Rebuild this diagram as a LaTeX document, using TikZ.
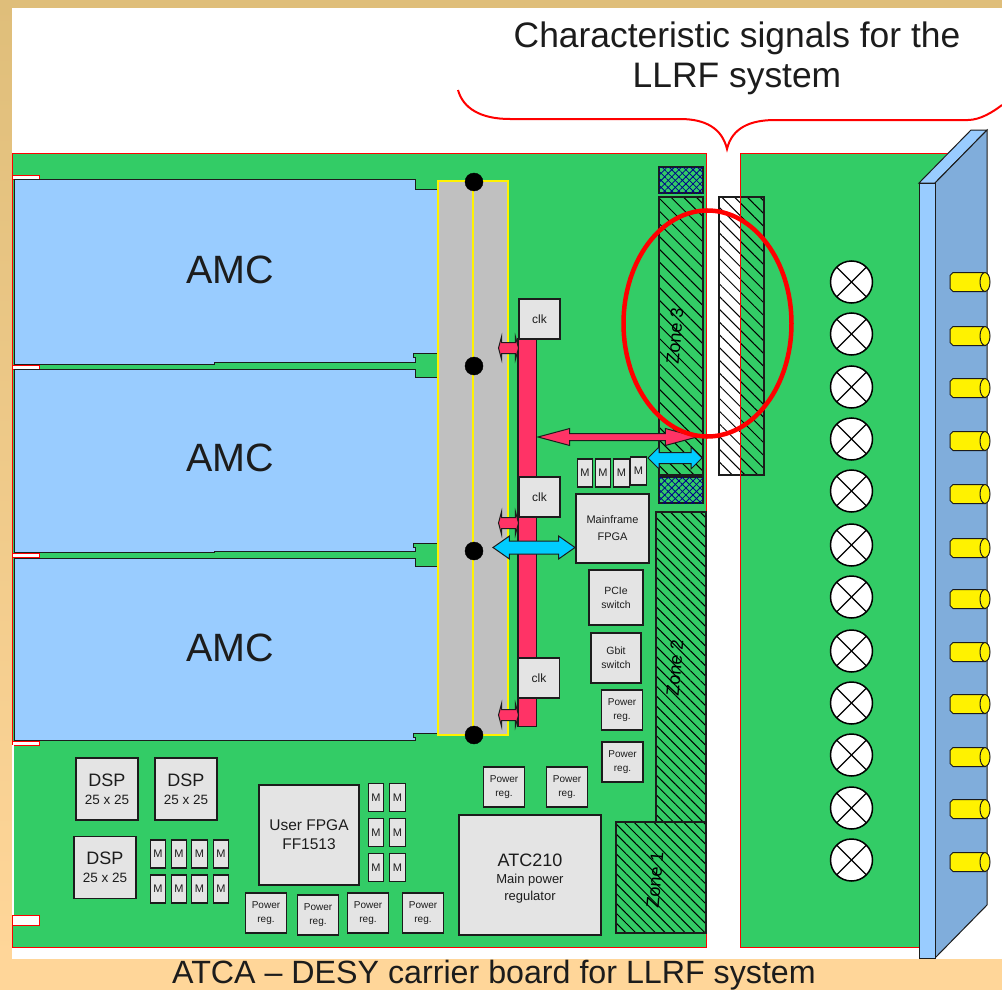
\documentclass[tikz,border=0pt]{standalone}
\usepackage{fontspec}
\setmainfont{Liberation Sans}
\usetikzlibrary{shapes.arrows,patterns.meta}
\definecolor{boardgreen}{HTML}{33CC66}
\definecolor{amcblue}{HTML}{99CCFF}
\definecolor{sideblue}{HTML}{80ADDB}
\definecolor{chipgray}{HTML}{E4E4E4}
\definecolor{railgray}{HTML}{C0C0C0}
\definecolor{busred}{HTML}{FF3366}
\definecolor{linkcyan}{HTML}{00CCFF}
\definecolor{slidetan}{HTML}{FFD699}
\definecolor{slidetop}{HTML}{DFBE7A}
\definecolor{inkblack}{HTML}{1C1C1C}
\tikzset{
  chipbox/.style={draw=inkblack,fill=chipgray,line width=1.4pt,inner sep=0pt,outer sep=0pt,
    align=center,text=inkblack},
  tiny chip/.style={chipbox,minimum width=15.5,minimum height=28,font=\fontsize{11}{12}\selectfont},
  power chip/.style={chipbox,minimum width=41,minimum height=40,font=\fontsize{10}{14}\selectfont},
  clk chip/.style={chipbox,minimum width=41,minimum height=40,font=\fontsize{12}{14}\selectfont},
  dsp chip/.style={chipbox,minimum width=62,minimum height=62,font=\fontsize{13.5}{18}\selectfont},
  zone lines/.style={draw=inkblack,line width=1.2pt,pattern={Lines[angle=-45,distance=#1,line width=1pt]},pattern color=black},
  zone text/.style={font=\fontsize{18}{20}\selectfont,rotate=85,text=black},
  block arrow/.style={shape=double arrow,draw=inkblack,line width=1pt,outer sep=0pt},
  lamp/.style={draw=black,fill=white,line width=1.5pt},
  plug/.style={draw=inkblack,fill=yellow,line width=1pt}
}
\begin{document}
\begin{tikzpicture}[x=1pt,y=-1pt]
\useasboundingbox (0,0) rectangle (1002,990);
% slide background
\shade[top color=slidetop,bottom color=slidetan] (0,0) rectangle (1002,960);
\fill[slidetan] (0,959) rectangle (1002,990);
\fill[white] (12,8) rectangle (1002,959);

% carrier board and rear board
\filldraw[draw=red,fill=boardgreen,line width=1pt] (12,153) rectangle (706,947);
\fill[boardgreen] (740,153) -- (948,153) -- (919,183) -- (919,947) -- (740,947) -- cycle;
\foreach \y/\h in {175/4,365/4,553/4,741/4,915/10}
  \filldraw[draw=red,fill=white,line width=1pt] (12,\y) rectangle (39,\y+\h);
\fill[white] (12,745) rectangle (14,915);

% AMC modules
\filldraw[draw=inkblack,fill=amcblue,line width=1pt] (14,179) -- (415,179) -- (415,189) -- (440,189) -- (440,353)
  -- (413,353) -- (413,357) -- (415,357) -- (415,362) -- (214,362) -- (214,364) -- (14,364) -- cycle;
\filldraw[draw=inkblack,fill=amcblue,line width=1pt] (14,369) -- (415,369) -- (415,377) -- (440,377) -- (440,543)
  -- (413,543) -- (413,547) -- (415,547) -- (415,551) -- (214,551) -- (214,552) -- (14,552) -- cycle;
\filldraw[draw=inkblack,fill=amcblue,line width=1pt] (14,558) -- (415,558) -- (415,566) -- (440,566) -- (440,733)
  -- (413,733) -- (413,737) -- (415,737) -- (415,740) -- (14,740) -- cycle;
\foreach \y/\n in {270/A,458/B,648/C}
  \node[font=\fontsize{39.5}{42}\selectfont,text=inkblack] (amc\n) at (230,\y) {AMC};

% connector rail
\filldraw[draw=yellow,fill=railgray,line width=1.2pt] (438,181) rectangle (508,735);
\draw[yellow,line width=1.2pt] (473,181) -- (473,735);
\foreach \y in {182,366,551,735}
  \filldraw (474,\y) circle (9);

% clock bus
\filldraw[draw=inkblack,fill=busred,line width=1.2pt] (518,339) rectangle (536.5,726.5);
\foreach \y/\n in {348/A,523/B,715/C}
  \node[block arrow,fill=busred,inner sep=5,minimum height=20,double arrow head extend=6,double arrow tip angle=150] (tap\n) at (508.5,\y) {};
\node[clk chip] (clkA) at (539.5,319) {clk};
\node[clk chip] (clkB) at (539.5,497) {clk};
\node[clk chip] (clkC) at (539,678) {clk};

% zones
\draw[zone lines=7pt] (616,822) rectangle (706,933);
\draw[zone lines=7pt] (656,512) rectangle (706,822);
\draw[zone lines=9pt] (659,197) rectangle (703,475);
\foreach \y/\h in {167/26,477/26}
  \filldraw[draw=inkblack,fill=boardgreen,line width=1.2pt] (659,\y) rectangle (703,\y+\h);
\foreach \y/\h in {167/26,477/26} {
  \fill[pattern={Lines[angle=45,distance=5pt,line width=.8pt]},pattern color=blue!55!black] (659,\y) rectangle (703,\y+\h);
  \fill[pattern={Lines[angle=-45,distance=5pt,line width=.8pt]},pattern color=blue!55!black] (659,\y) rectangle (703,\y+\h);
}
\node[zone text] (zoneA) at (655,880) {Zone 1};
\node[zone text] (zoneB) at (675,668) {Zone 2};
\node[zone text] (zoneC) at (675,336) {Zone 3};

% rear connector
\draw[zone lines=9pt] (719,197) rectangle (764,475);
\draw[red,line width=1pt] (740,153) -- (740,947);
\draw[red,line width=1pt] (740,153) -- (948,153);
\draw[red,line width=1pt] (740,947) -- (919,947);

% chips
\foreach \x/\y/\n in {158/854/a,179/854/b,199.5/854/c,221/854/d,158/889/e,179/889/f,199.5/889/g,221/889/h,
    376/797.5/i,397.5/797.5/j,376/832.5/k,397.5/832.5/l,376/867.5/m,397.5/867.5/n,
    585/473/o,603/473/p,621.5/473/q,638.5/471/r}
  \node[tiny chip] (mem\n) at (\x,\y) {M};
\foreach \x/\y/\n in {107/789/A,186/789/B,105/867.5/C}
  \node[dsp chip] (dsp\n) at (\x,\y) {{\fontsize{18}{20}\selectfont DSP}\\25 x 25};
\foreach \x/\y/\n in {622/710/A,622.5/762/B,504/787/C,567/787/D,266/913/E,318/915/F,368/913/G,423/913/H}
  \node[power chip] (pow\n) at (\x,\y) {Power\\reg.};
\node[chipbox,minimum width=100,minimum height=100,font=\fontsize{15.5}{19}\selectfont] (userfpga) at (309,835) {User FPGA\\FF1513};
\node[chipbox,minimum width=73,minimum height=69,font=\fontsize{11}{17}\selectfont] (mainfpga) at (612.5,528.5) {Mainframe\\FPGA};
\node[chipbox,minimum width=54,minimum height=55,font=\fontsize{10.5}{14}\selectfont] (pcie) at (616,597.5) {PCIe\\switch};
\node[chipbox,minimum width=50,minimum height=50,font=\fontsize{10.5}{14}\selectfont] (gbit) at (616,658) {Gbit\\switch};
\node[chipbox,minimum width=142,minimum height=120,font=\fontsize{13}{17}\selectfont] (atc) at (530,875) {\rule{0pt}{19pt}{\fontsize{18}{20}\selectfont ATC210}\\Main power\\regulator};

% links
\node[block arrow,fill=busred,inner sep=3,minimum height=159,double arrow head extend=5,double arrow tip angle=30] (fabric) at (617.5,437) {};
\node[block arrow,fill=linkcyan,inner sep=5,minimum height=54,double arrow head extend=5.5,double arrow tip angle=90] (linkzone) at (675,458) {};
\node[block arrow,fill=linkcyan,inner sep=6,minimum height=82,double arrow head extend=5,double arrow tip angle=70] (linkamc) at (534,547.5) {};

% front panel
\filldraw[draw=inkblack,fill=amcblue,line width=1pt] (919,183) -- (971,130) -- (987,130) -- (935,183) -- cycle;
\filldraw[draw=inkblack,fill=sideblue,line width=1pt] (935,183) -- (987,130) -- (987,905) -- (935,958) -- cycle;
\filldraw[draw=inkblack,fill=amcblue,line width=1pt] (919,183) rectangle (935,958);

\foreach \y in {282,334,387,439,491,545,597,651,703,755,808,860} {
  \filldraw[lamp] (851.5,\y) circle (21);
  \draw[line width=1.2pt] (851.5,\y) ++(-15,-15) -- ++(30,30);
  \draw[line width=1.2pt] (851.5,\y) ++(15,-15) -- ++(-30,30);
}
\foreach \y in {282,336,388,441,494,548,599,652,704,757,809,862} {
  \filldraw[plug] (953,\y-9.5) -- (985,\y-9.5) -- (985,\y+9.5) -- (953,\y+9.5) -- (950,\y+6.5) -- (950,\y-6.5) -- cycle;
  \filldraw[plug] (985,\y) ellipse (5 and 9.5);
}

% highlight
\draw[red,line width=4.5pt] (707.5,323.5) ellipse (84 and 113);
\draw[red,line width=2pt] (458,90) .. controls (463,108) and (480,119) .. (510,119) -- (680,119)
  .. controls (705,119) and (722,128) .. (727,149) .. controls (732,128) and (750,120) .. (775,120)
  -- (968,120) .. controls (980,120) and (993,112) .. (1002,105);

\node[font=\fontsize{35.4}{40}\selectfont,align=center,text=inkblack] (title) at (737,58) {Characteristic signals for the\\LLRF system};
\node[font=\fontsize{32.2}{36}\selectfont,text=inkblack] (caption) at (494,975) {ATCA – DESY carrier board for LLRF system};
\end{tikzpicture}
\end{document}
